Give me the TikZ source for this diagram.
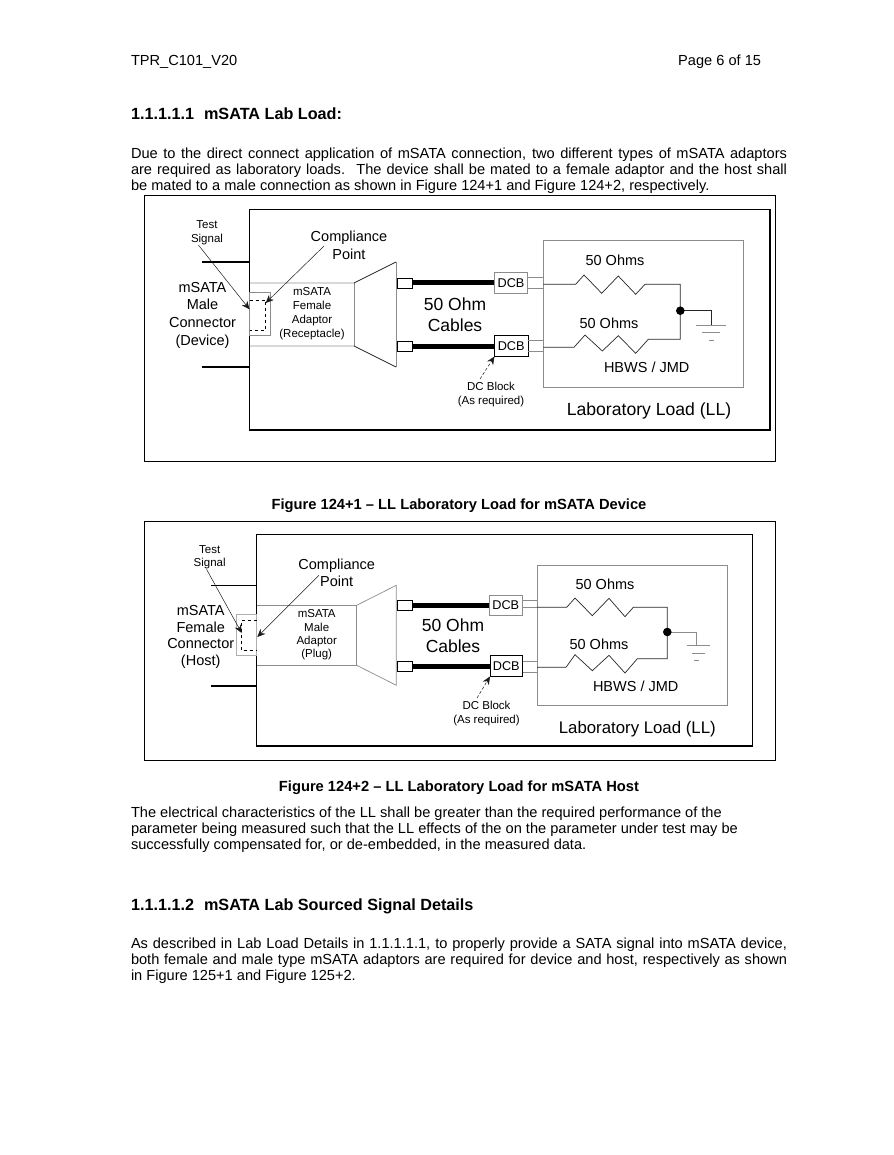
\documentclass[tikz,border=0pt]{standalone}
\usepackage{fontspec}
\setmainfont{Liberation Sans}
\usetikzlibrary{arrows.meta, fit}
\definecolor{linegray}{HTML}{8C8C8C}
\definecolor{palegray}{HTML}{D9D9D9}
\newcommand{\fsz}[2]{\fontsize{#1}{#2}\selectfont}

\begin{document}
\begin{tikzpicture}[x=1pt, y=-1pt, >={Stealth[length=8pt, width=7pt]}, line join=miter,
    page/.style={inner sep=0pt, outer sep=0pt, anchor=base west, font=\fsz{14.6}{16.2}},
    para/.style={page, anchor=north west, text width=656pt, align=justify},
    head/.style={page, font=\fsz{16.2}{18}\bfseries},
    caption/.style={inner sep=0pt, outer sep=0pt, font=\fsz{14.7}{16}\bfseries},
    frame/.style={draw, inner sep=0pt, outer sep=0pt, fit={#1}},
    dcbox/.style={draw, inner sep=0pt, outer sep=0pt, minimum width=33.5, minimum height=21, font=\fsz{12.7}{14}},
    lbl/.style={inner sep=0pt, outer sep=0pt, align=center, font=\fsz{14.5}{17.7}},
    tiny/.style={lbl, font=\fsz{11.5}{14}},
    big/.style={lbl, font=\fsz{17.5}{21}},
    cable/.style={line width=5pt},
    lead/.style={line width=1.8pt},
    thin line/.style={line width=0.7pt, black!85},
    pointer/.style={->, line width=0.5pt, black!90},
  ]
  \useasboundingbox (0,0) rectangle (893,1155);

  % Kopf und erster Absatz
  \node[page] (hdl) at (131,66) {TPR\_C101\_V20};
  \node[page, anchor=base east] (hdr) at (761,66) {Page 6 of 15};
  \node[head] (h1) at (131,120) {1.1.1.1.1\hspace{10pt}mSATA Lab Load:};
  \node[para] (p1) at (131,148) {Due to the direct connect application of mSATA connection, two different types of mSATA adaptors\linebreak are required as laboratory loads.\hspace{3pt} The device shall be mated to a female adaptor and the host shall\linebreak be mated to a male connection as shown in Figure 124+1 and Figure 124+2, respectively.};

  % 1. Bild: mSATA Device
  \node[frame={(144,195)(775,461)}, line width=0.8pt] (outerA) {};
  \node[frame={(249.5,209.5)(770,430)}, line width=1.2pt] (llA) {};
  \draw[line width=2pt] (llA.south west) -- (llA.south east) -- (llA.north east);
  \draw[lead] (202,262) -- (llA.west |- 0,262);
  \draw[lead] (202,367) -- (llA.west |- 0,367);
  \draw[palegray, line width=1.5pt] (llA.west |- 0,283) -- (354,283);
  \draw[palegray, line width=1.5pt] (llA.west |- 0,346) -- (354,346);
  \node[frame={(249.5,292.7)(270.7,335.3)}, draw=linegray, line width=0.7pt] (sockA) {};
  \draw[dashed, line width=0.8pt] (249.5,300) -- (265.7,300) -- (265.7,330) -- (249.5,330);
  \coordinate (tapAa) at (354,283);
  \coordinate (tapAb) at (396,262);
  \coordinate (tapAc) at (396,367);
  \coordinate (tapAd) at (354,346);
  \draw[linegray, line width=0.8pt] (tapAa) -- (tapAd) (tapAb) -- (tapAc);
  \draw[thin line] (tapAa) -- (tapAb) (tapAd) -- (tapAc);
  \node[frame={(397,278)(412.7,288)}, line width=0.8pt] (conAa) {};
  \node[frame={(397,341)(412.7,351)}, line width=0.8pt] (conAb) {};
  \node[dcbox, draw=linegray, line width=0.7pt] (dcbAa) at (511,283) {DCB};
  \node[dcbox, line width=0.9pt] (dcbAb) at (511.2,346) {DCB};
  \draw[cable] (conAa.east) -- (dcbAa.west);
  \draw[cable] (conAb.east) -- (dcbAb.west);
  \node[frame={(543.3,240.7)(743.7,387.7)}, draw=linegray, line width=0.9pt] (loadA) {};
  \draw[linegray, line width=0.6pt] (dcbAa.east |- 0,277.3) -- (loadA.west |- 0,277.3);
  \draw[linegray, line width=0.6pt] (dcbAa.east |- 0,288.3) -- (loadA.west |- 0,288.3);
  \draw[linegray, line width=0.6pt] (dcbAb.east |- 0,340.3) -- (loadA.west |- 0,340.3);
  \draw[linegray, line width=0.6pt] (dcbAb.east |- 0,351) -- (loadA.west |- 0,351);
  \coordinate (nodeA) at (680.3,310.7);
  \draw[thin line] (loadA.west |- 0,284.3) -- (575.7,284.3) -- (584,275) -- (601.7,293.3) -- (618.3,276) -- (635.7,294.3) -- (645,284.3) -- (680.3,284.3) -- (nodeA);
  \draw[thin line] (loadA.west |- 0,347.3) -- (574,347.3) -- (585,335) -- (602.3,351) -- (618.3,335.7) -- (635.7,353.3) -- (648.3,339.3) -- (680.3,339.3) -- (nodeA);
  \draw[thin line] (nodeA) -- (711,310.7) -- (711,325) coordinate (gndA);
  \fill (nodeA) circle (4.3);
  \draw[linegray, line width=0.7pt] (696,325) -- (726,325) (701.7,332.7) -- (720,332.7) (709.3,340.7) -- (714,340.7);

  \node[tiny] (tsigA) at (207,233) {Test\\Signal};
  \node[lbl, font=\fsz{14.5}{18}] (cpA) at (349,245) {Compliance\\Point};
  \node[lbl] (devA) at (202.5,315) {mSATA\\Male\\Connector\\(Device)};
  \node[tiny] (adpA) at (312,313.5) {mSATA\\Female\\Adaptor\\(Receptacle)};
  \node[big] (cabA) at (455,314.5) {50 Ohm\\Cables};
  \node[tiny] (blkA) at (491,395) {DC Block\\(As required)};
  \node[lbl] (rAa) at (615,260) {50 Ohms};
  \node[lbl] (rAb) at (609,323) {50 Ohms};
  \node[lbl] (jmdA) at (646.7,367) {HBWS / JMD};
  \node[lbl, font=\fsz{17.6}{21}] (nameA) at (649,411) {Laboratory Load (LL)};
  \draw[pointer] (tsigA.235) -- (249.5,309.3);
  \draw[pointer] (324,246) -- (265.7,303);
  \draw[pointer, densely dashed] (480,379) -- (dcbAb.south west);

  \node[caption] (capA) at (459,506) {Figure 124+1 -- LL Laboratory Load for mSATA Device};

  % 2. Bild: mSATA Host
  \node[frame={(144,521.3)(775,760.3)}, line width=0.8pt] (outerB) {};
  \node[frame={(256.7,534.7)(752.7,746)}, line width=1.5pt] (llB) {};
  \draw[line width=0.9pt] (211,585.3) -- (llB.west |- 0,585.3);
  \draw[lead] (211,685.7) -- (llB.west |- 0,685.7);
  \node[frame={(236.7,614.7)(256.7,655.3)}, draw=palegray!80!black, line width=0.7pt] (sockB) {};
  \draw[dashed, line width=0.8pt] (256.7,620) -- (241.3,620) -- (241.3,650.3) -- (256.7,650.3);
  \coordinate (tapBa) at (356.7,605.3);
  \coordinate (tapBb) at (396.3,585.3);
  \coordinate (tapBc) at (396.3,685.3);
  \coordinate (tapBd) at (356.7,665.3);
  \draw[linegray, line width=0.7pt] (llB.west |- tapBa) -- (tapBa) -- (tapBd) -- (llB.west |- tapBd);
  \draw[linegray, line width=0.7pt] (tapBa) -- (tapBb) -- (tapBc) -- (tapBd);
  \node[frame={(397,600.5)(412.7,610.5)}, line width=0.8pt] (conBa) {};
  \node[frame={(397,661)(412.7,671)}, line width=0.8pt] (conBb) {};
  \node[dcbox, minimum width=33, minimum height=20, draw=linegray, line width=0.7pt] (dcbBa) at (505.8,605.5) {DCB};
  \node[dcbox, minimum width=32.7, line width=0.9pt] (dcbBb) at (506.3,666) {DCB};
  \draw[cable] (conBa.east) -- (dcbBa.west);
  \draw[cable] (conBb.east) -- (dcbBb.west);
  \node[frame={(537,565.3)(727.3,705.7)}, draw=linegray, line width=0.9pt] (loadB) {};
  \draw[linegray, line width=0.6pt] (dcbBa.east |- 0,600.3) -- (loadB.west |- 0,600.3);
  \draw[linegray, line width=0.6pt] (dcbBa.east |- 0,607.3) -- (loadB.west |- 0,607.3);
  \draw[linegray, line width=0.6pt] (dcbBb.east |- 0,661.3) -- (loadB.west |- 0,661.3);
  \draw[linegray, line width=0.6pt] (dcbBb.east |- 0,672) -- (loadB.west |- 0,672);
  \coordinate (nodeB) at (667.3,632);
  \draw[thin line] (loadB.west |- 0,607.3) -- (566.7,607.3) -- (575,598) -- (592.3,615.7) -- (609,598.3) -- (625,616.7) -- (633.3,607.3) -- (667.3,607.3) -- (nodeB);
  \draw[thin line] (loadB.west |- 0,667.3) -- (566,667.3) -- (575,654.7) -- (592.3,670.7) -- (609,655.3) -- (625,673) -- (637.3,658.7) -- (667.3,658.7) -- (nodeB);
  \draw[linegray, line width=0.7pt] (nodeB) -- (696.7,632) -- (696.7,645.3) coordinate (gndB);
  \fill (nodeB) circle (4.3);
  \draw[linegray, line width=0.7pt] (686.7,645.3) -- (710,645.3) (691.7,653) -- (705,653) (694.3,660.7) -- (699,660.7);

  \node[tiny, font=\fsz{11.5}{13.3}] (tsigB) at (209.7,557.5) {Test\\Signal};
  \node[lbl, font=\fsz{14.5}{16.5}] (cpB) at (336.7,573) {Compliance\\Point};
  \node[lbl, font=\fsz{14.5}{16.8}] (hostB) at (200.7,637) {mSATA\\Female\\Connector\\(Host)};
  \node[tiny, font=\fsz{11.5}{13.4}] (adpB) at (316.7,635) {mSATA\\Male\\Adaptor\\(Plug)};
  \node[big] (cabB) at (453,635.5) {50 Ohm\\Cables};
  \node[tiny, font=\fsz{11.5}{13.3}] (blkB) at (486.5,713.5) {DC Block\\(As required)};
  \node[lbl] (rBa) at (605,584) {50 Ohms};
  \node[lbl] (rBb) at (599,644) {50 Ohms};
  \node[lbl] (jmdB) at (635.7,686) {HBWS / JMD};
  \node[lbl, font=\fsz{16.8}{21}] (nameB) at (637.3,729) {Laboratory Load (LL)};
  \draw[pointer] (tsigB.255) -- (241.7,633);
  \draw[pointer] (319,575.3) -- (257.3,637);
  \draw[pointer, densely dashed] (477,698) -- (dcbBb.south west);

  \node[caption] (capB) at (459,788) {Figure 124+2 -- LL Laboratory Load for mSATA Host};

  % Restlicher Text
  \node[page, anchor=north west, align=left] (p2) at (131,807) {The electrical characteristics of the LL shall be greater than the required performance of the\\parameter being measured such that the LL effects of the on the parameter under test may be\\successfully compensated for, or de-embedded, in the measured data.};
  \node[head] (h2) at (131,910) {1.1.1.1.2\hspace{10pt}mSATA Lab Sourced Signal Details};
  \node[para] (p3) at (131,938) {As described in Lab Load Details in 1.1.1.1.1, to properly provide a SATA signal into mSATA device,\linebreak both female and male type mSATA adaptors are required for device and host, respectively as shown\linebreak in Figure 125+1 and Figure 125+2.};
\end{tikzpicture}
\end{document}
